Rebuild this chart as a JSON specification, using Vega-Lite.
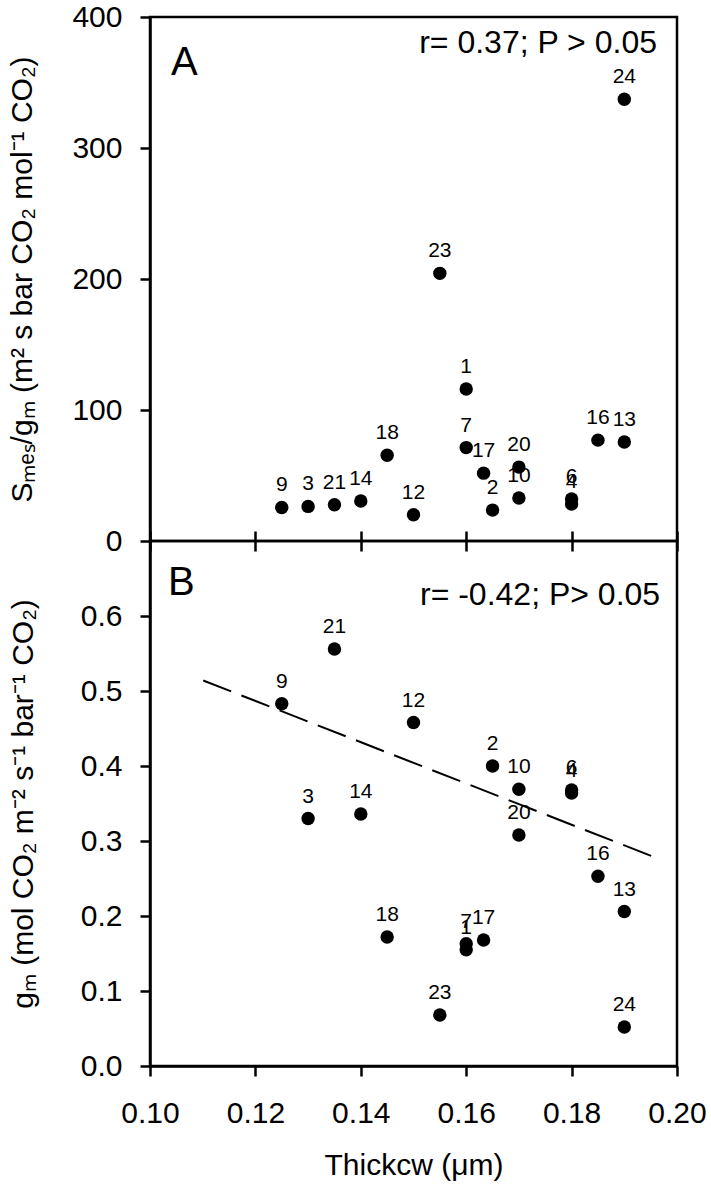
{
  "$schema": "https://vega.github.io/schema/vega-lite/v6.json",
  "background": "white",
  "padding": {"left": 6, "top": 0, "right": 5, "bottom": 5},
  "spacing": 0,
  "bounds": "flush",
  "config": {
    "font": "Liberation Sans",
    "view": {"stroke": "black", "strokeWidth": 2.5},
    "axis": {
      "domainColor": "black", "domainWidth": 2.5,
      "tickColor": "black", "tickWidth": 2.5, "tickSize": 10,
      "labelColor": "black", "titleColor": "black",
      "labelFont": "Liberation Sans", "titleFont": "Liberation Sans",
      "labelFontSize": 30, "titleFontSize": 30, "titleFontWeight": "normal",
      "labelFlush": false,
      "grid": false
    }
  },
  "datasets": {
    "pts": [
      {"id": "1", "thick": 0.16, "smes_gm": 116, "gm": 0.155},
      {"id": "2", "thick": 0.165, "smes_gm": 23.6, "gm": 0.400},
      {"id": "3", "thick": 0.13, "smes_gm": 26.4, "gm": 0.330},
      {"id": "4", "thick": 0.18, "smes_gm": 28.2, "gm": 0.364},
      {"id": "6", "thick": 0.18, "smes_gm": 32.0, "gm": 0.368},
      {"id": "7", "thick": 0.16, "smes_gm": 71.3, "gm": 0.163},
      {"id": "9", "thick": 0.125, "smes_gm": 25.6, "gm": 0.483},
      {"id": "10", "thick": 0.17, "smes_gm": 32.8, "gm": 0.369},
      {"id": "12", "thick": 0.15, "smes_gm": 20.0, "gm": 0.458},
      {"id": "13", "thick": 0.19, "smes_gm": 75.6, "gm": 0.206},
      {"id": "14", "thick": 0.14, "smes_gm": 30.5, "gm": 0.336},
      {"id": "16", "thick": 0.185, "smes_gm": 77.0, "gm": 0.253},
      {"id": "17", "thick": 0.1633, "smes_gm": 51.8, "gm": 0.168},
      {"id": "18", "thick": 0.145, "smes_gm": 65.4, "gm": 0.172},
      {"id": "20", "thick": 0.17, "smes_gm": 56.4, "gm": 0.308},
      {"id": "21", "thick": 0.135, "smes_gm": 27.7, "gm": 0.556},
      {"id": "23", "thick": 0.155, "smes_gm": 204.3, "gm": 0.068},
      {"id": "24", "thick": 0.19, "smes_gm": 337.2, "gm": 0.052}
    ],
    "fit": [
      {"thick": 0.1101, "gm": 0.514},
      {"thick": 0.1966, "gm": 0.276}
    ],
    "one": [{}]
  },
  "vconcat": [
    {
      "width": 527,
      "height": 524,
      "layer": [
        {
          "data": {"name": "pts"},
          "mark": {"type": "point", "filled": true, "shape": "circle", "size": 180, "color": "black", "opacity": 1},
          "encoding": {
            "x": {"field": "thick", "type": "quantitative", "title": null,
              "scale": {"domain": [0.1, 0.2], "nice": false, "zero": false},
              "axis": {"values": [0.1, 0.12, 0.14, 0.16, 0.18, 0.2], "labels": false, "domain": false, "offset": -10, "tickSize": 20}},
            "y": {"field": "smes_gm", "type": "quantitative", "title": "Sₘₑₛ/gₘ (m² s bar CO₂ mol⁻¹ CO₂)",
              "scale": {"domain": [0, 400], "nice": false},
              "axis": {"values": [0, 100, 200, 300, 400], "labelPadding": 18, "titlePadding": 34}}
          }
        },
        {
          "data": {"name": "pts"},
          "mark": {"type": "text", "dy": -22, "fontSize": 21, "color": "black", "baseline": "middle"},
          "encoding": {
            "x": {"field": "thick", "type": "quantitative", "title": null,
              "axis": {"values": [0.1, 0.12, 0.14, 0.16, 0.18, 0.2], "labels": false, "domain": false, "offset": -10, "tickSize": 20}},
            "y": {"field": "smes_gm", "type": "quantitative", "title": "Sₘₑₛ/gₘ (m² s bar CO₂ mol⁻¹ CO₂)",
              "axis": {"values": [0, 100, 200, 300, 400], "labelPadding": 18, "titlePadding": 34}},
            "text": {"field": "id", "type": "nominal"}
          }
        },
        {
          "data": {"name": "one"},
          "mark": {"type": "text", "text": "A", "fontSize": 40, "align": "left", "baseline": "middle", "color": "black"},
          "encoding": {
            "x": {"datum": 0.104, "type": "quantitative", "title": null,
              "axis": {"values": [0.1, 0.12, 0.14, 0.16, 0.18, 0.2], "labels": false, "domain": false, "offset": -10, "tickSize": 20}},
            "y": {"datum": 365, "type": "quantitative", "title": "Sₘₑₛ/gₘ (m² s bar CO₂ mol⁻¹ CO₂)",
              "axis": {"values": [0, 100, 200, 300, 400], "labelPadding": 18, "titlePadding": 34}}
          }
        },
        {
          "data": {"name": "one"},
          "mark": {"type": "text", "text": "r= 0.37; P > 0.05", "fontSize": 32, "align": "right", "baseline": "middle", "color": "black"},
          "encoding": {
            "x": {"datum": 0.1962, "type": "quantitative", "title": null,
              "axis": {"values": [0.1, 0.12, 0.14, 0.16, 0.18, 0.2], "labels": false, "domain": false, "offset": -10, "tickSize": 20}},
            "y": {"datum": 380, "type": "quantitative", "title": "Sₘₑₛ/gₘ (m² s bar CO₂ mol⁻¹ CO₂)",
              "axis": {"values": [0, 100, 200, 300, 400], "labelPadding": 18, "titlePadding": 34}}
          }
        }
      ]
    },
    {
      "width": 527,
      "height": 525,
      "layer": [
        {
          "data": {"name": "pts"},
          "mark": {"type": "point", "filled": true, "shape": "circle", "size": 180, "color": "black", "opacity": 1},
          "encoding": {
            "x": {"field": "thick", "type": "quantitative", "title": "Thickcw (μm)",
              "scale": {"domain": [0.1, 0.2], "nice": false, "zero": false},
              "axis": {"values": [0.1, 0.12, 0.14, 0.16, 0.18, 0.2], "format": ".2f", "labelPadding": 22, "titlePadding": 22}},
            "y": {"field": "gm", "type": "quantitative", "title": "gₘ (mol CO₂ m⁻² s⁻¹ bar⁻¹ CO₂)",
              "scale": {"domain": [0, 0.7], "nice": false},
              "axis": {"values": [0, 0.1, 0.2, 0.3, 0.4, 0.5, 0.6], "format": ".1f", "labelPadding": 18, "titlePadding": 42}}
          }
        },
        {
          "data": {"name": "fit"},
          "mark": {"type": "line", "color": "black", "strokeWidth": 2, "strokeDash": [30, 11]},
          "encoding": {
            "x": {"field": "thick", "type": "quantitative", "title": "Thickcw (μm)",
              "axis": {"values": [0.1, 0.12, 0.14, 0.16, 0.18, 0.2], "format": ".2f", "labelPadding": 22, "titlePadding": 22}},
            "y": {"field": "gm", "type": "quantitative", "title": "gₘ (mol CO₂ m⁻² s⁻¹ bar⁻¹ CO₂)",
              "axis": {"values": [0, 0.1, 0.2, 0.3, 0.4, 0.5, 0.6], "format": ".1f", "labelPadding": 18, "titlePadding": 42}}
          }
        },
        {
          "data": {"name": "pts"},
          "mark": {"type": "text", "dy": -22, "fontSize": 21, "color": "black", "baseline": "middle"},
          "encoding": {
            "x": {"field": "thick", "type": "quantitative", "title": "Thickcw (μm)",
              "axis": {"values": [0.1, 0.12, 0.14, 0.16, 0.18, 0.2], "format": ".2f", "labelPadding": 22, "titlePadding": 22}},
            "y": {"field": "gm", "type": "quantitative", "title": "gₘ (mol CO₂ m⁻² s⁻¹ bar⁻¹ CO₂)",
              "axis": {"values": [0, 0.1, 0.2, 0.3, 0.4, 0.5, 0.6], "format": ".1f", "labelPadding": 18, "titlePadding": 42}},
            "text": {"field": "id", "type": "nominal"}
          }
        },
        {
          "data": {"name": "one"},
          "mark": {"type": "text", "text": "B", "fontSize": 40, "align": "left", "baseline": "middle", "color": "black"},
          "encoding": {
            "x": {"datum": 0.1034, "type": "quantitative", "title": "Thickcw (μm)",
              "axis": {"values": [0.1, 0.12, 0.14, 0.16, 0.18, 0.2], "format": ".2f", "labelPadding": 22, "titlePadding": 22}},
            "y": {"datum": 0.644, "type": "quantitative", "title": "gₘ (mol CO₂ m⁻² s⁻¹ bar⁻¹ CO₂)",
              "axis": {"values": [0, 0.1, 0.2, 0.3, 0.4, 0.5, 0.6], "format": ".1f", "labelPadding": 18, "titlePadding": 42}}
          }
        },
        {
          "data": {"name": "one"},
          "mark": {"type": "text", "text": "r= -0.42; P> 0.05", "fontSize": 32, "align": "right", "baseline": "middle", "color": "black"},
          "encoding": {
            "x": {"datum": 0.1968, "type": "quantitative", "title": "Thickcw (μm)",
              "axis": {"values": [0.1, 0.12, 0.14, 0.16, 0.18, 0.2], "format": ".2f", "labelPadding": 22, "titlePadding": 22}},
            "y": {"datum": 0.628, "type": "quantitative", "title": "gₘ (mol CO₂ m⁻² s⁻¹ bar⁻¹ CO₂)",
              "axis": {"values": [0, 0.1, 0.2, 0.3, 0.4, 0.5, 0.6], "format": ".1f", "labelPadding": 18, "titlePadding": 42}}
          }
        }
      ]
    }
  ]
}
